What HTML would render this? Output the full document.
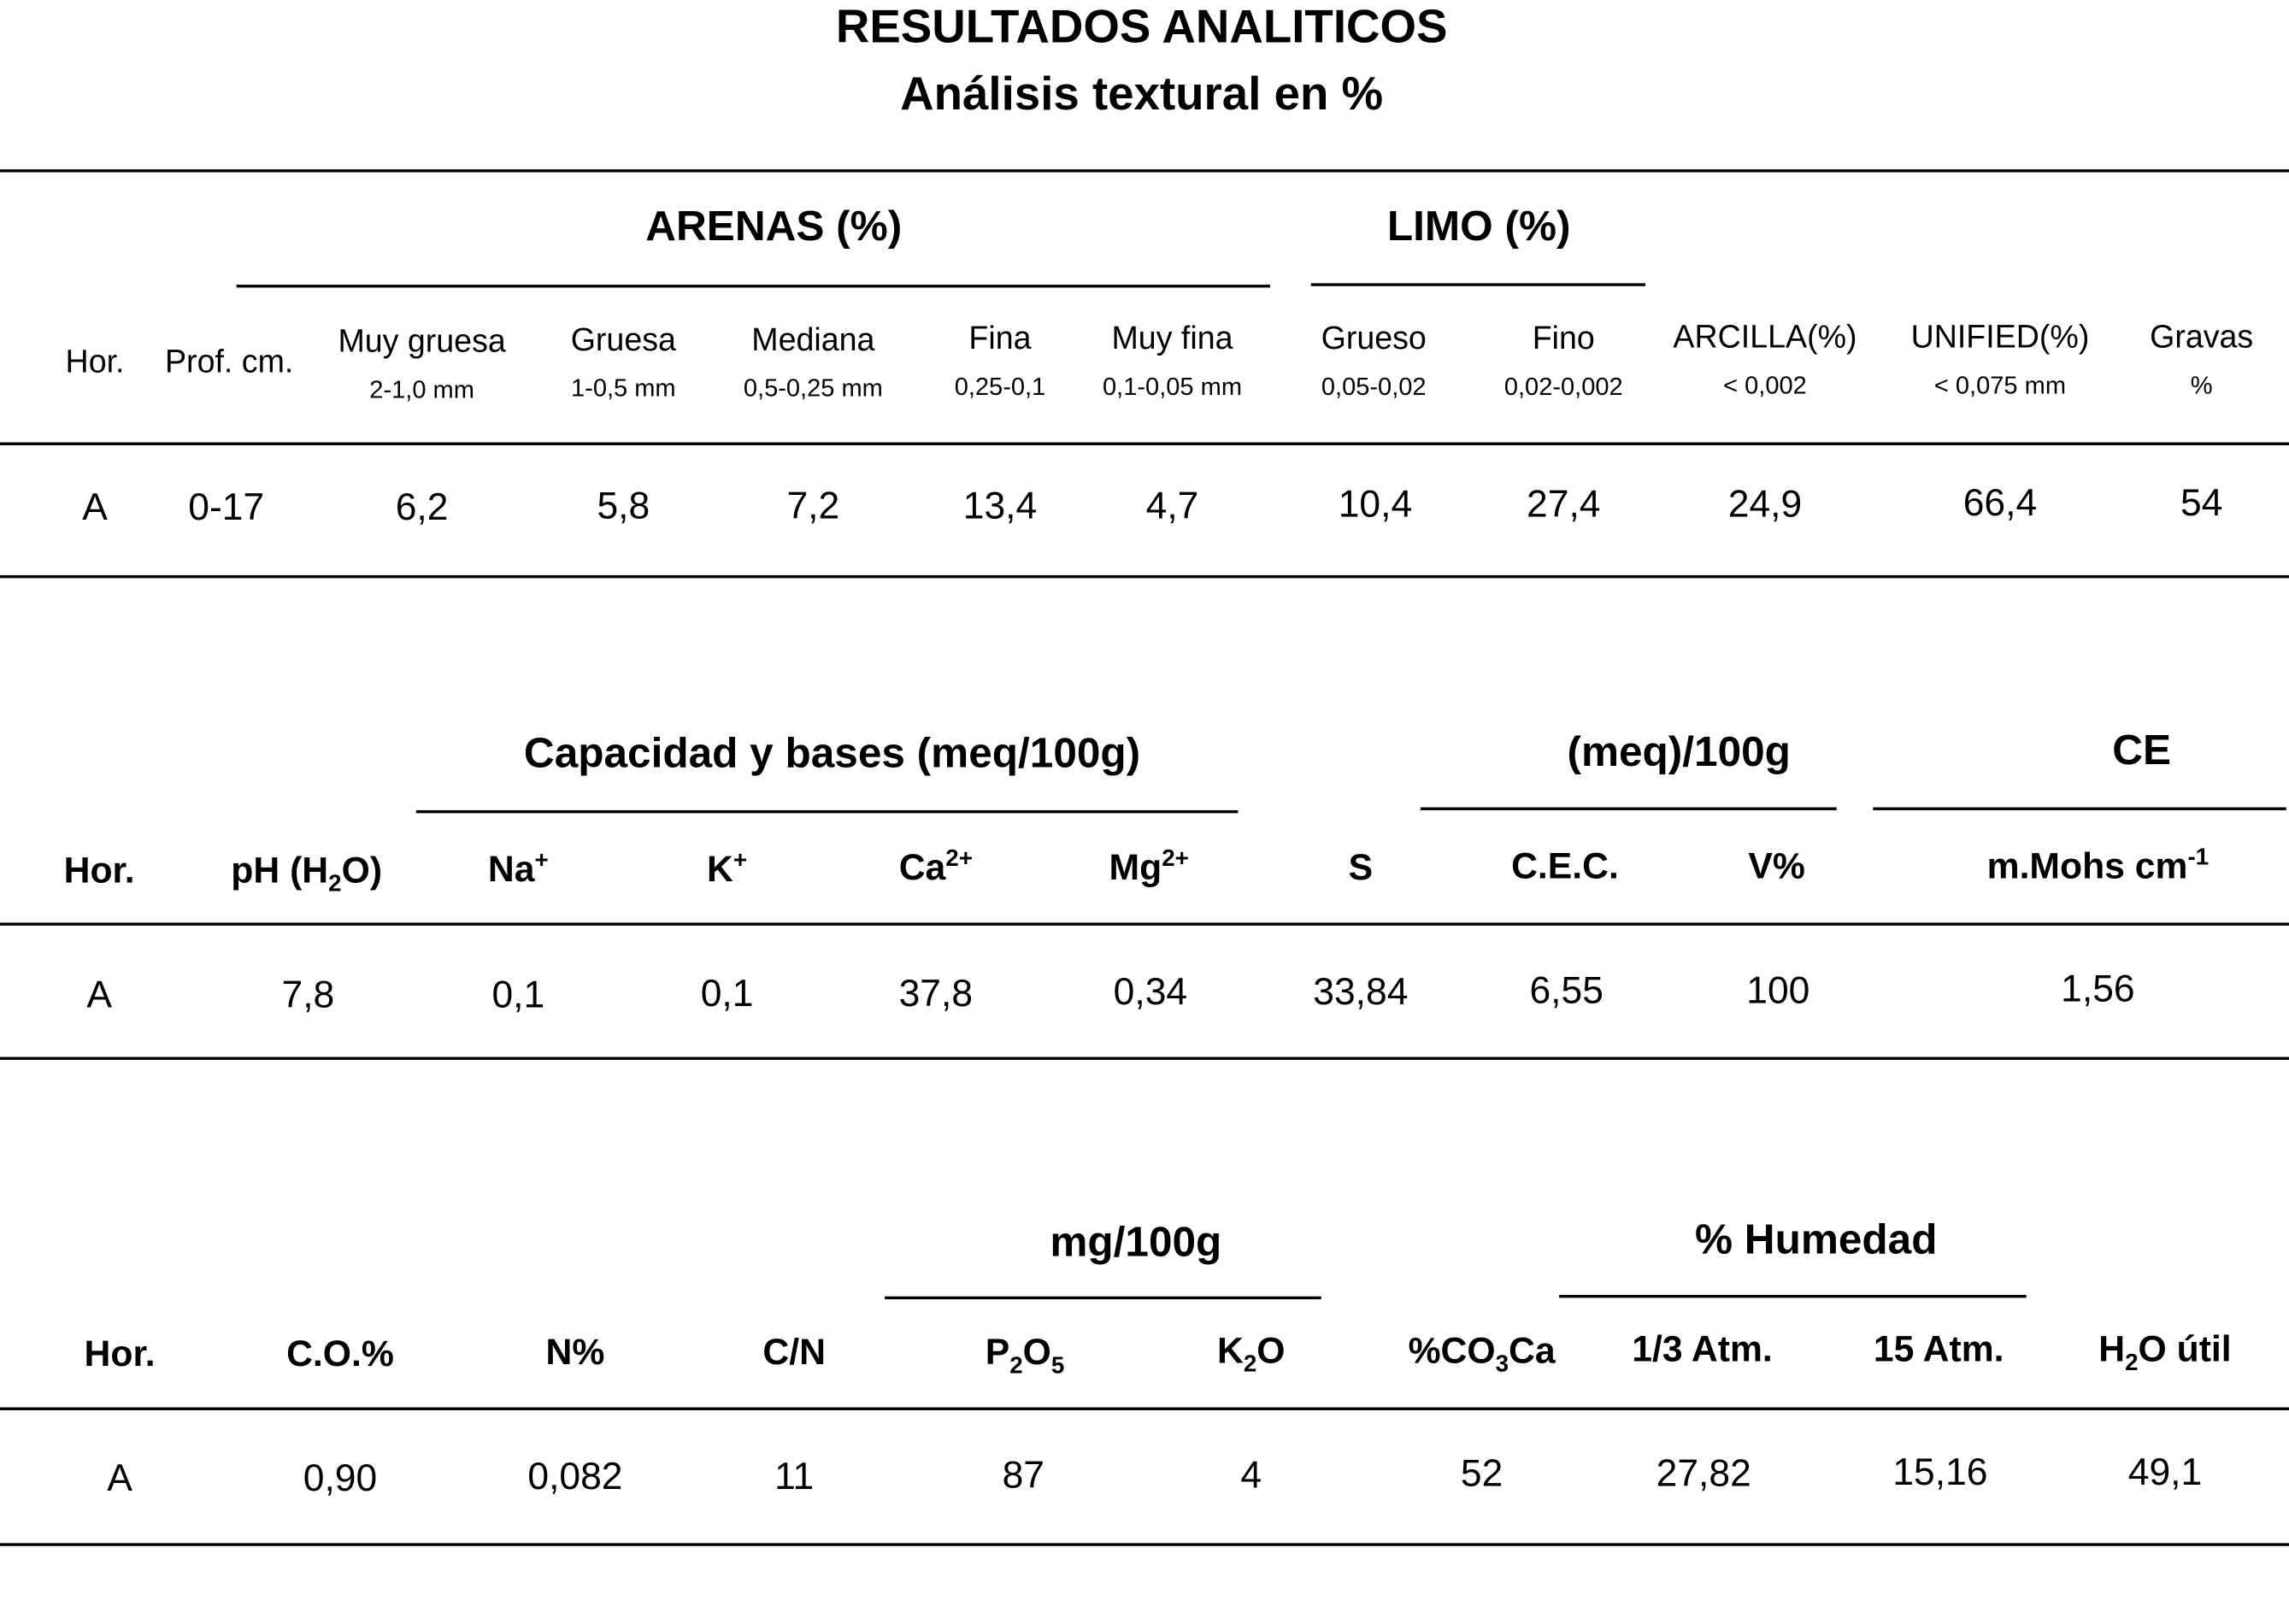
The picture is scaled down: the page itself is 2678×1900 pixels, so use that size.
<!DOCTYPE html>
<html><head><meta charset="utf-8"><style>
html,body{margin:0;padding:0;background:#fff;}
body{width:2678px;height:1900px;overflow:hidden;position:relative;}
#w{position:absolute;left:0;top:0;width:1568px;height:1112px;transform:scale(1.708);transform-origin:0 0;font-family:"Liberation Sans",Arial,sans-serif;color:#000;}
.t{position:absolute;transform:translate(-50%,-50%);white-space:nowrap;line-height:1;}
.l{position:absolute;background:#000;height:2px;}
.b{font-weight:bold;}
.h{font-size:22px;}
.s{font-size:17px;}
.d{font-size:26px;}
.g{font-size:25px;font-weight:bold;}
.G{font-size:29px;font-weight:bold;}
sub,sup{font-size:0.65em;line-height:0;}
</style></head><body><div id="w">
<div class="t b" style="left:782px;top:18px;font-size:32px">RESULTADOS ANALITICOS</div>
<div class="t b" style="left:782px;top:64px;font-size:32px">Análisis textural en %</div>
<div class="l" style="left:0;width:1568px;top:116px"></div>
<div class="t G" style="left:530px;top:156px">ARENAS (%)</div>
<div class="t G" style="left:1013px;top:156px">LIMO (%)</div>
<div class="l" style="left:162px;width:708px;top:195px"></div>
<div class="l" style="left:898px;width:229px;top:194px"></div>
<div class="t h" style="left:65px;top:248px">Hor.</div>
<div class="t h" style="left:157px;top:248px">Prof. cm.</div>
<div class="t h" style="left:289px;top:234px">Muy gruesa</div><div class="t s" style="left:289px;top:267px">2-1,0 mm</div>
<div class="t h" style="left:427px;top:233px">Gruesa</div><div class="t s" style="left:427px;top:266px">1-0,5 mm</div>
<div class="t h" style="left:557px;top:233px">Mediana</div><div class="t s" style="left:557px;top:266px">0,5-0,25 mm</div>
<div class="t h" style="left:685px;top:232px">Fina</div><div class="t s" style="left:685px;top:265px">0,25-0,1</div>
<div class="t h" style="left:803px;top:232px">Muy fina</div><div class="t s" style="left:803px;top:265px">0,1-0,05 mm</div>
<div class="t h" style="left:941px;top:232px">Grueso</div><div class="t s" style="left:941px;top:265px">0,05-0,02</div>
<div class="t h" style="left:1071px;top:232px">Fino</div><div class="t s" style="left:1071px;top:265px">0,02-0,002</div>
<div class="t h" style="left:1209px;top:231px">ARCILLA(%)</div><div class="t s" style="left:1209px;top:264px">&lt; 0,002</div>
<div class="t h" style="left:1370px;top:231px">UNIFIED(%)</div><div class="t s" style="left:1370px;top:264px">&lt; 0,075 mm</div>
<div class="t h" style="left:1508px;top:231px">Gravas</div><div class="t s" style="left:1508px;top:264px">%</div>
<div class="l" style="left:0;width:1568px;top:303px"></div>
<div class="t d" style="left:65px;top:347px">A</div>
<div class="t d" style="left:155px;top:347px">0-17</div>
<div class="t d" style="left:289px;top:347px">6,2</div>
<div class="t d" style="left:427px;top:346px">5,8</div>
<div class="t d" style="left:557px;top:346px">7,2</div>
<div class="t d" style="left:685px;top:346px">13,4</div>
<div class="t d" style="left:803px;top:346px">4,7</div>
<div class="t d" style="left:942px;top:345px">10,4</div>
<div class="t d" style="left:1071px;top:345px">27,4</div>
<div class="t d" style="left:1209px;top:345px">24,9</div>
<div class="t d" style="left:1370px;top:344px">66,4</div>
<div class="t d" style="left:1508px;top:344px">54</div>
<div class="l" style="left:0;width:1568px;top:394px"></div>

<div class="t G" style="left:570px;top:517px">Capacidad y bases (meq/100g)</div>
<div class="t G" style="left:1150px;top:516px">(meq)/100g</div>
<div class="t G" style="left:1467px;top:515px">CE</div>
<div class="l" style="left:285px;width:563px;top:555px"></div>
<div class="l" style="left:973px;width:285px;top:553px"></div>
<div class="l" style="left:1283px;width:283px;top:553px"></div>
<div class="t g" style="left:68px;top:597px">Hor.</div>
<div class="t g" style="left:210px;top:597px">pH (H<sub>2</sub>O)</div>
<div class="t g" style="left:355px;top:596px">Na<sup>+</sup></div>
<div class="t g" style="left:498px;top:596px">K<sup>+</sup></div>
<div class="t g" style="left:641px;top:595px">Ca<sup>2+</sup></div>
<div class="t g" style="left:787px;top:595px">Mg<sup>2+</sup></div>
<div class="t g" style="left:932px;top:595px">S</div>
<div class="t g" style="left:1072px;top:594px">C.E.C.</div>
<div class="t g" style="left:1217px;top:594px">V%</div>
<div class="t g" style="left:1437px;top:594px">m.Mohs cm<sup>-1</sup></div>
<div class="l" style="left:0;width:1568px;top:632px"></div>
<div class="t d" style="left:68px;top:681px">A</div>
<div class="t d" style="left:211px;top:681px">7,8</div>
<div class="t d" style="left:355px;top:681px">0,1</div>
<div class="t d" style="left:498px;top:680px">0,1</div>
<div class="t d" style="left:641px;top:680px">37,8</div>
<div class="t d" style="left:788px;top:679px">0,34</div>
<div class="t d" style="left:932px;top:679px">33,84</div>
<div class="t d" style="left:1073px;top:678px">6,55</div>
<div class="t d" style="left:1218px;top:678px">100</div>
<div class="t d" style="left:1437px;top:677px">1,56</div>
<div class="l" style="left:0;width:1568px;top:724px"></div>

<div class="t G" style="left:778px;top:852px">mg/100g</div>
<div class="t G" style="left:1244px;top:850px">% Humedad</div>
<div class="l" style="left:606px;width:299px;top:888px"></div>
<div class="l" style="left:1068px;width:320px;top:887px"></div>
<div class="t g" style="left:82px;top:928px">Hor.</div>
<div class="t g" style="left:233px;top:928px">C.O.%</div>
<div class="t g" style="left:394px;top:927px">N%</div>
<div class="t g" style="left:544px;top:927px">C/N</div>
<div class="t g" style="left:702px;top:927px">P<sub>2</sub>O<sub>5</sub></div>
<div class="t g" style="left:857px;top:926px">K<sub>2</sub>O</div>
<div class="t g" style="left:1015px;top:926px">%CO<sub>3</sub>Ca</div>
<div class="t g" style="left:1166px;top:925px">1/3 Atm.</div>
<div class="t g" style="left:1328px;top:925px">15 Atm.</div>
<div class="t g" style="left:1483px;top:925px">H<sub>2</sub>O útil</div>
<div class="l" style="left:0;width:1568px;top:964px"></div>
<div class="t d" style="left:82px;top:1012px">A</div>
<div class="t d" style="left:233px;top:1012px">0,90</div>
<div class="t d" style="left:394px;top:1011px">0,082</div>
<div class="t d" style="left:544px;top:1011px">11</div>
<div class="t d" style="left:701px;top:1010px">87</div>
<div class="t d" style="left:857px;top:1010px">4</div>
<div class="t d" style="left:1015px;top:1009px">52</div>
<div class="t d" style="left:1167px;top:1009px">27,82</div>
<div class="t d" style="left:1329px;top:1008px">15,16</div>
<div class="t d" style="left:1483px;top:1008px">49,1</div>
<div class="l" style="left:0;width:1568px;top:1057px"></div>
</div></body></html>
